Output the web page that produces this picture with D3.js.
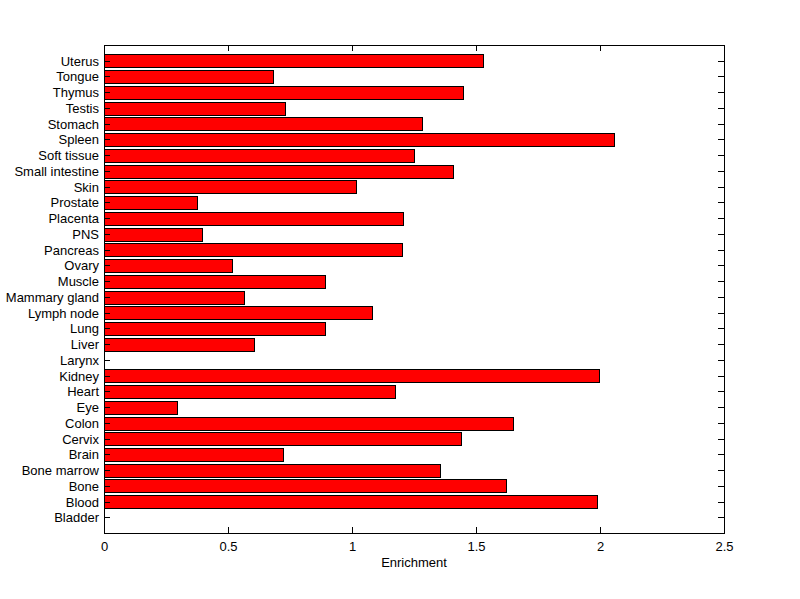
<!DOCTYPE html>
<html>
<head>
<meta charset="utf-8">
<script src="https://cdn.jsdelivr.net/npm/d3@7"></script>
<style>
body { margin: 0; background: #fff; }
text { font-family: "Liberation Sans", Arial, sans-serif; font-size: 13px; }
</style>
</head>
<body>
<svg id="chart" width="800" height="599"></svg>
<script>
// categories from bottom to top, like the plot
var tissues = ['Bladder', 'Blood', 'Bone', 'Bone marrow', 'Brain', 'Cervix', 'Colon', 'Eye', 'Heart', 'Kidney',
    'Larynx', 'Liver', 'Lung', 'Lymph node', 'Mammary gland', 'Muscle', 'Ovary', 'Pancreas', 'PNS', 'Placenta',
    'Prostate', 'Skin', 'Small intestine', 'Soft tissue', 'Spleen', 'Stomach', 'Testis', 'Thymus', 'Tongue', 'Uterus'];
var enrichment = [0, 1.987, 1.621, 1.355, 0.72, 1.44, 1.649, 0.293, 1.173, 1.996,
    0, 0.603, 0.891, 1.081, 0.565, 0.891, 0.516, 1.202, 0.395, 1.206,
    0.374, 1.016, 1.407, 1.25, 2.056, 1.282, 0.73, 1.448, 0.68, 1.528];
var xTicks = [0, 0.5, 1, 1.5, 2, 2.5];
var xTickLabels = ['0', '0.5', '1', '1.5', '2', '2.5'];

function draw() {
    var svg = d3.select('#chart');
    var left = 104, right = 724, top = 45, bottom = 533;
    var tickLen = 6;

    var x = d3.scaleLinear().domain([0, 2.5]).range([left, right]);
    // bar i sits at position i+1, limits 0..n+1
    var y = d3.scaleLinear().domain([0, tissues.length + 1]).range([bottom, top]);
    var barH = Math.abs(y(0.8) - y(0));

    var g = svg.append('g');

    // bars (zero values draw nothing)
    for (var i = 0; i < tissues.length; i++) {
        if (enrichment[i] <= 0) continue;
        g.append('rect')
            .attr('x', Math.round(x(0)) + 0.5)
            .attr('y', Math.round(y(i + 1) - barH / 2) + 0.5)
            .attr('width', Math.round(x(enrichment[i]) - x(0)))
            .attr('height', Math.round(barH))
            .attr('fill', '#ff0000')
            .attr('stroke', '#000')
            .attr('stroke-width', 1);
    }

    // frame
    g.append('rect')
        .attr('x', left + 0.5)
        .attr('y', top + 0.5)
        .attr('width', right - left)
        .attr('height', bottom - top)
        .attr('fill', 'none')
        .attr('stroke', '#000')
        .attr('stroke-width', 1);

    // y ticks, left and right, pointing in
    for (var i = 0; i < tissues.length; i++) {
        var yy = Math.round(y(i + 1)) + 0.5;
        g.append('line').attr('x1', left).attr('x2', left + tickLen).attr('y1', yy).attr('y2', yy)
            .attr('stroke', '#000');
        g.append('line').attr('x1', right).attr('x2', right - tickLen).attr('y1', yy).attr('y2', yy)
            .attr('stroke', '#000');
        g.append('text')
            .text(tissues[i])
            .attr('text-anchor', 'end')
            .attr('x', left - 5)
            .attr('y', yy + 4.5)
            .attr('fill', '#000');
    }

    // x ticks, bottom and top
    for (var j = 0; j < xTicks.length; j++) {
        var xx = Math.round(x(xTicks[j])) + 0.5;
        g.append('line').attr('x1', xx).attr('x2', xx).attr('y1', bottom).attr('y2', bottom - tickLen)
            .attr('stroke', '#000');
        g.append('line').attr('x1', xx).attr('x2', xx).attr('y1', top).attr('y2', top + tickLen)
            .attr('stroke', '#000');
        g.append('text')
            .text(xTickLabels[j])
            .attr('text-anchor', 'middle')
            .attr('x', xx)
            .attr('y', bottom + 18)
            .attr('fill', '#000');
    }

    g.append('text')
        .text('Enrichment')
        .attr('text-anchor', 'middle')
        .attr('x', (left + right) / 2)
        .attr('y', 567)
        .attr('fill', '#000');
}

window.onload = draw;
</script>
</body>
</html>
